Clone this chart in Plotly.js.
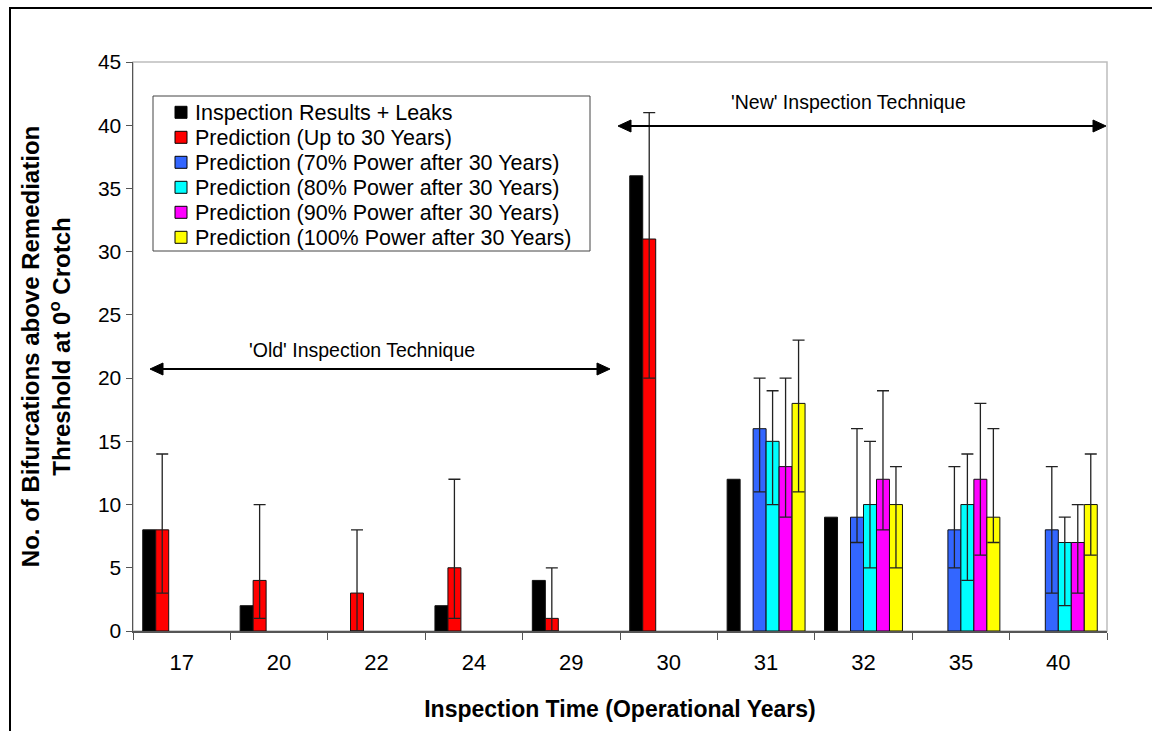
<!DOCTYPE html>
<html><head><meta charset="utf-8">
<script src="https://cdn.plot.ly/plotly-3.0.1.min.js"></script>
<style>
html,body{margin:0;padding:0;overflow:hidden;background:#fff}
#chart{width:1152px;height:731px}
#frame{position:absolute;left:9px;top:7px;width:3000px;height:3000px;border-left:2px solid #000;border-top:2px solid #000;pointer-events:none}
</style></head><body>
<div id="chart"></div><div id="frame"></div>
<script>
// ---- data ----
const categories = ['17','20','22','24','29','30','31','32','35','40'];
const seriesNames = [
  'Inspection Results + Leaks',
  'Prediction (Up to 30 Years)',
  'Prediction (70% Power after 30 Years)',
  'Prediction (80% Power after 30 Years)',
  'Prediction (90% Power after 30 Years)',
  'Prediction (100% Power after 30 Years)'
];
const inspection      = [8, 2, null, 2, 4, 36, 12, 9, null, null];
const predUpTo30      = [8, 4, 3, 5, 1, 31, null, null, null, null];
const predUpTo30Upper = [14, 10, 8, 12, 5, 41, null, null, null, null];
const predUpTo30Lower = [3, 1, 0, 1, 0, 20, null, null, null, null];
const pred70      = [null, null, null, null, null, null, 16, 9, 8, 8];
const pred70Upper = [null, null, null, null, null, null, 20, 16, 13, 13];
const pred70Lower = [null, null, null, null, null, null, 11, 7, 5, 3];
const pred80      = [null, null, null, null, null, null, 15, 10, 10, 7];
const pred80Upper = [null, null, null, null, null, null, 19, 15, 14, 9];
const pred80Lower = [null, null, null, null, null, null, 10, 5, 4, 2];
const pred90      = [null, null, null, null, null, null, 13, 12, 12, 7];
const pred90Upper = [null, null, null, null, null, null, 20, 19, 18, 10];
const pred90Lower = [null, null, null, null, null, null, 9, 8, 6, 3];
const pred100      = [null, null, null, null, null, null, 18, 10, 9, 10];
const pred100Upper = [null, null, null, null, null, null, 23, 13, 16, 14];
const pred100Lower = [null, null, null, null, null, null, 11, 5, 7, 6];

// ---- styles ----
const FONT = 'Liberation Sans, Arial, sans-serif';
const colors = ['#000000', '#FF0000', '#3366FF', '#00FFFF', '#FF00FF', '#FFFF00'];

function plus(v, up) { return v.map((d, i) => d == null ? null : up[i] - d); }
function minus(v, lo) { return v.map((d, i) => d == null ? null : d - lo[i]); }

const values = [inspection, predUpTo30, pred70, pred80, pred90, pred100];
const uppers = [null, predUpTo30Upper, pred70Upper, pred80Upper, pred90Upper, pred100Upper];
const lowers = [null, predUpTo30Lower, pred70Lower, pred80Lower, pred90Lower, pred100Lower];

const traces = values.map((v, k) => {
  const t = {
    type: 'bar', x: categories, y: v, name: seriesNames[k], showlegend: false,
    marker: { color: colors[k], line: { color: '#111', width: 1 } }
  };
  if (uppers[k]) {
    t.error_y = { type: 'data', symmetric: false, array: plus(v, uppers[k]), arrayminus: minus(v, lowers[k]),
      color: '#222', thickness: 1.3, width: 6 };
  }
  return t;
});

// plot area in pixels
const L = 133, R = 1107, T = 62, B = 631;
const px = x => (x - L) / (R - L);
const py = y => (B - y) / (B - T);

const shapes = [
  { type: 'rect', xref: 'paper', yref: 'paper', x0: 0, x1: 1, y0: 0, y1: 1, line: { color: '#BDBDBD', width: 1.5 }, layer: 'below' },
  // legend box
  { type: 'rect', xref: 'paper', yref: 'paper', x0: px(153), x1: px(590), y0: py(251), y1: py(96), line: { color: '#444', width: 1 }, fillcolor: 'rgba(255,255,255,1)' }
];

// double-headed arrows (pixel geometry converted to paper coords)
function arrow(xa, xb, y) {
  const len = 13, hh = 6;
  shapes.push({ type: 'line', xref: 'paper', yref: 'paper', x0: px(xa + 4), x1: px(xb - 4), y0: py(y), y1: py(y),
    line: { color: '#000', width: 2 } });
  const p = (x, yy) => px(x) + ',' + py(yy);
  shapes.push({ type: 'path', xref: 'paper', yref: 'paper', fillcolor: '#000', line: { color: '#000', width: 1 },
    path: 'M' + p(xa, y) + 'L' + p(xa + len, y - hh) + 'L' + p(xa + len, y + hh) + 'Z' });
  shapes.push({ type: 'path', xref: 'paper', yref: 'paper', fillcolor: '#000', line: { color: '#000', width: 1 },
    path: 'M' + p(xb, y) + 'L' + p(xb - len, y - hh) + 'L' + p(xb - len, y + hh) + 'Z' });
}
arrow(150, 610, 369);
arrow(618, 1106, 126);

const annotations = [];
seriesNames.forEach((n, i) => {
  const cy = 112.3 + 25 * i;
  shapes.push({ type: 'rect', xref: 'paper', yref: 'paper', x0: px(175), x1: px(187), y0: py(cy + 6), y1: py(cy - 6),
    fillcolor: colors[i], line: { color: '#000', width: 1 } });
  annotations.push({ xref: 'paper', yref: 'paper', x: px(193), y: py(cy + 1), xanchor: 'left', yanchor: 'middle',
    text: n, showarrow: false, font: { family: FONT, size: 21.5, color: '#000' } });
});

annotations.push(
  { xref: 'x', yref: 'y', x: 1.85, y: 22.2, text: "'Old' Inspection Technique", showarrow: false,
    font: { family: FONT, size: 19.5, color: '#000' } },
  { xref: 'x', yref: 'y', x: 6.85, y: 41.8, text: "'New' Inspection Technique", showarrow: false,
    font: { family: FONT, size: 19.5, color: '#000' } }
);

const layout = {
  width: 1152, height: 731,
  margin: { l: L, r: 1152 - R, t: T, b: 731 - B },
  paper_bgcolor: '#fff', plot_bgcolor: '#fff',
  barmode: 'group', bargap: 0.2, bargroupgap: 0,
  showlegend: false,
  font: { family: FONT, color: '#000' },
  xaxis: {
    type: 'category', tickson: 'boundaries', ticks: 'outside', ticklen: 7, tickcolor: '#555', tickwidth: 1,
    showline: true, linecolor: '#555', linewidth: 1.5, showgrid: false, zeroline: false,
    ticklabelstandoff: 11,
    tickfont: { family: FONT, size: 22, color: '#000' },
    title: { text: 'Inspection Time (Operational Years)', standoff: 27,
      font: { family: FONT, size: 23, color: '#000', weight: 'bold' } }
  },
  yaxis: {
    range: [0, 45], dtick: 5, ticks: 'outside', ticklen: 6, tickcolor: '#555', tickwidth: 1,
    showline: true, linecolor: '#555', linewidth: 1.5, showgrid: false, zeroline: false,
    tickfont: { family: FONT, size: 21, color: '#000' },
    title: { text: 'No. of Bifurcations above Remediation<br>Threshold at 0<sup>o</sup> Crotch', standoff: 20,
      font: { family: FONT, size: 24, color: '#000', weight: 'bold' } }
  },
  shapes: shapes,
  annotations: annotations
};

Plotly.newPlot('chart', traces, layout, { staticPlot: true });
</script></body></html>
